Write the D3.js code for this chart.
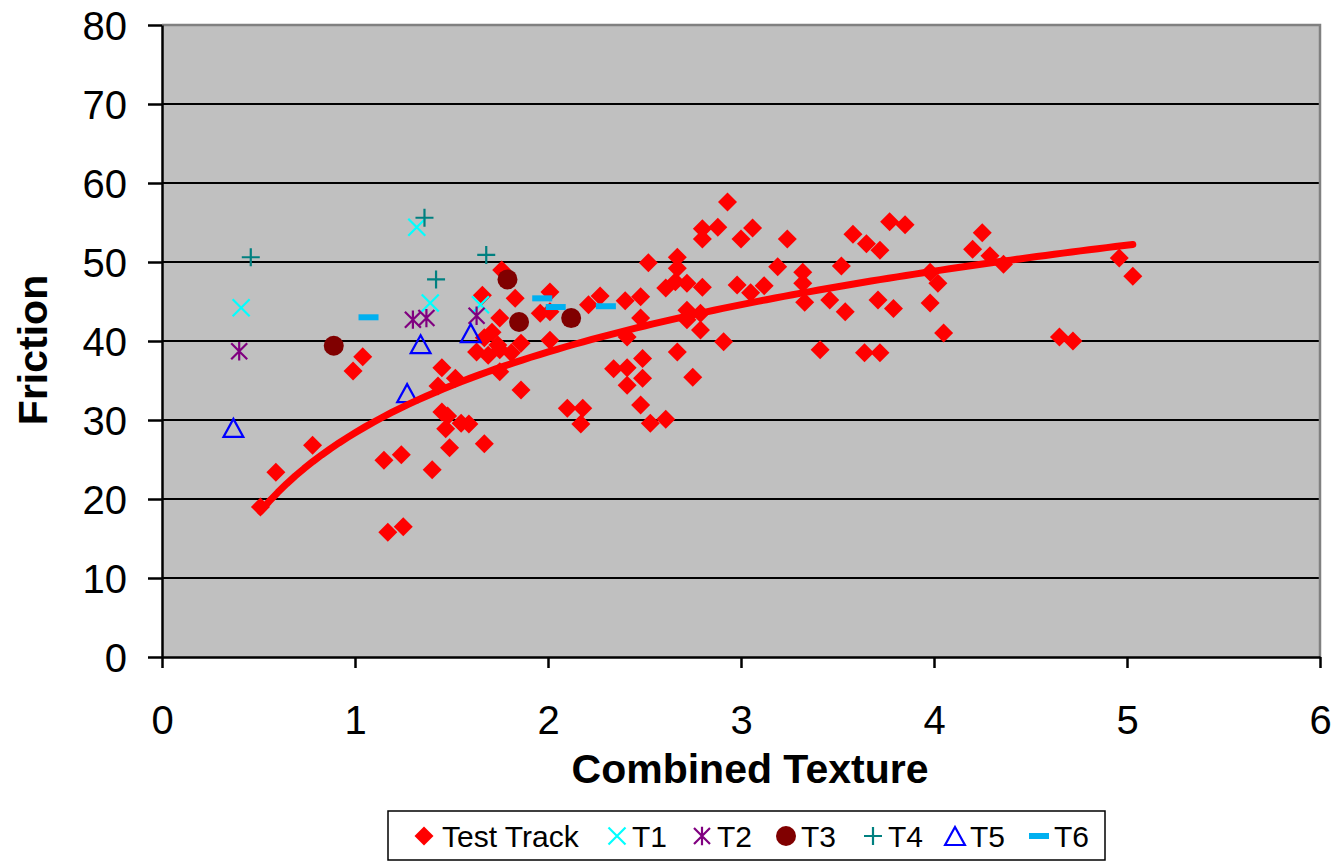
<!DOCTYPE html>
<html>
<head>
<meta charset="utf-8">
<script src="https://cdn.jsdelivr.net/npm/d3@7"></script>
<style>
  body { margin: 0; background: #fff; }
  svg { display: block; font-family: "Liberation Sans", Arial, sans-serif; }
</style>
</head>
<body>
<div id="chart"></div>
<script>
// Test Track (red diamonds)
var trackX = [0.51,0.59,0.78,0.99,1.04,1.15,1.24,1.17,1.25,1.40,1.45,1.52,1.43,1.45,1.48,1.47,1.55,1.59,1.49,1.67,
  1.75,1.86,1.76,1.66,1.83,2.01,1.96,2.01,1.75,1.71,1.67,1.74,1.63,1.69,1.75,1.86,1.81,2.01,
  2.10,2.18,2.17,2.27,2.21,2.40,2.48,2.48,2.52,2.67,2.67,2.61,2.66,2.72,2.80,2.72,2.72,2.79,2.79,
  2.41,2.67,2.49,2.34,2.41,2.49,2.41,2.75,2.48,2.53,2.61,2.91,
  2.93,2.80,2.88,2.80,3.00,3.06,3.24,2.98,3.05,3.12,3.19,3.32,3.32,3.52,3.58,3.65,3.72,3.77,3.85,
  3.98,4.02,4.20,4.25,4.29,4.36,3.33,3.46,3.54,3.71,3.79,3.98,3.41,3.64,3.72,4.05,4.65,4.72,4.96,5.03];
var trackY = [19.0,23.4,26.8,36.2,38.0,24.9,25.6,15.8,16.5,23.7,36.6,35.3,34.3,31.0,30.5,28.9,29.6,29.5,26.5,27.0,
  36.1,33.8,49.0,45.8,45.4,46.2,43.5,43.7,42.9,41.1,40.4,39.5,38.6,38.2,38.9,39.7,38.5,40.1,
  31.5,31.5,29.5,45.7,44.6,45.1,45.6,42.9,49.9,50.6,49.2,46.7,47.5,47.3,46.8,43.9,42.7,43.5,41.4,
  40.5,38.6,37.8,36.5,36.6,35.3,34.4,35.4,31.9,29.6,30.1,39.9,
  57.6,54.2,54.4,52.9,52.9,54.3,52.9,47.1,46.1,47.0,49.4,48.7,47.3,49.5,53.5,52.3,51.5,55.1,54.7,
  48.7,47.3,51.6,53.7,50.8,49.7,44.9,45.2,43.7,45.2,44.1,44.8,38.9,38.5,38.5,41.0,40.5,40.0,50.5,48.2];

// the other test sections
var t1X = [0.41,1.32,1.39,1.65], t1Y = [44.2,54.4,44.8,44.6];
var t2X = [0.40,1.30,1.37,1.63], t2Y = [38.7,42.7,42.9,43.2];
var t3X = [0.89,1.79,1.85,2.12], t3Y = [39.4,47.8,42.4,42.9];
var t4X = [0.46,1.36,1.42,1.68], t4Y = [50.6,55.6,47.8,50.9];
var t5X = [0.37,1.27,1.34,1.60], t5Y = [29.0,33.4,39.6,41.0];
var t6X = [1.07,1.97,2.04,2.30], t6Y = [43.0,45.4,44.3,44.4];

var xTicks = [0,1,2,3,4,5,6];
var yTicks = [0,10,20,30,40,50,60,70,80];
var legendNames = ["Test Track","T1","T2","T3","T4","T5","T6"];

var W = 1333, H = 862;
var margin = {top: 25, right: 13, bottom: 205, left: 162};
var width = W - margin.left - margin.right,
    height = H - margin.top - margin.bottom;

var svg = d3.select("#chart").append("svg")
  .attr("width", W).attr("height", H);
var g = svg.append("g")
  .attr("transform", "translate(" + margin.left + "," + margin.top + ")");

var x = d3.scaleLinear().domain([0,6]).range([0,width]);
var y = d3.scaleLinear().domain([0,80]).range([height,0]);

// plot background
g.append("rect").attr("width", width).attr("height", height).attr("fill", "#c0c0c0");

// grid lines
g.selectAll(".grid").data(yTicks.filter(function(d){return d>0 && d<80;}))
  .enter().append("line")
  .attr("x1", 0).attr("x2", width)
  .attr("y1", function(d){return y(d);}).attr("y2", function(d){return y(d);})
  .attr("stroke", "#000").attr("stroke-width", 2);

// gray frame top + right
g.append("path")
  .attr("d", "M0," + y(80) + "H" + width + "V" + height)
  .attr("fill", "none").attr("stroke", "#808080").attr("stroke-width", 2.5);

// axes
var yAxis = g.append("g")
  .call(d3.axisLeft(y).tickValues(yTicks).tickSize(14).tickPadding(21).tickSizeOuter(0));
var xAxis = g.append("g")
  .attr("transform", "translate(0," + height + ")")
  .call(d3.axisBottom(x).tickValues(xTicks).tickFormat(d3.format("d"))
    .tickSize(11).tickPadding(38).tickSizeOuter(0));
[yAxis, xAxis].forEach(function(a){
  a.select(".domain").attr("stroke", "#000").attr("stroke-width", 2.5);
  a.selectAll(".tick line").attr("stroke", "#000").attr("stroke-width", 2.5);
  a.selectAll("text").attr("font-size", 40).attr("fill", "#000")
    .attr("font-family", "Liberation Sans, Arial, sans-serif");
});
yAxis.selectAll("text").attr("dy", "0.36em");

// titles
svg.append("text")
  .attr("x", 750).attr("y", 783)
  .attr("text-anchor", "middle")
  .attr("font-size", 41).attr("font-weight", "bold")
  .text("Combined Texture");
svg.append("text")
  .attr("transform", "translate(47,350) rotate(-90)")
  .attr("text-anchor", "middle")
  .attr("font-size", 41).attr("font-weight", "bold")
  .text("Friction");

// marker shapes
function diamond(s){ return "M0," + (-s) + "L" + s + ",0L0," + s + "L" + (-s) + ",0Z"; }
function cross(s){ return "M" + (-s) + "," + (-s) + "L" + s + "," + s + "M" + (-s) + "," + s + "L" + s + "," + (-s); }
function star(s){ return cross(s) + "M0," + (-s*1.15) + "V" + (s*1.15); }
function plus(s){ return "M" + (-s) + ",0H" + s + "M0," + (-s) + "V" + s; }
function tri(s){ return "M0," + (-s) + "L" + (s*1.1) + "," + s + "L" + (-s*1.1) + "," + s + "Z"; }

var series = [
  {name:"Test Track", xs:trackX, ys:trackY, draw:function(sel){ sel.append("path").attr("d", diamond(9.5)).attr("fill", "#ff0000"); }},
  {name:"T1", xs:t1X, ys:t1Y, draw:function(sel){ sel.append("path").attr("d", cross(8.5)).attr("stroke", "#00ffff").attr("stroke-width", 2.2).attr("fill", "none"); }},
  {name:"T2", xs:t2X, ys:t2Y, draw:function(sel){ sel.append("path").attr("d", star(8)).attr("stroke", "#800080").attr("stroke-width", 2.2).attr("fill", "none"); }},
  {name:"T3", xs:t3X, ys:t3Y, draw:function(sel){ sel.append("circle").attr("r", 10).attr("fill", "#800000"); }},
  {name:"T4", xs:t4X, ys:t4Y, draw:function(sel){ sel.append("path").attr("d", plus(9)).attr("stroke", "#008080").attr("stroke-width", 2.2).attr("fill", "none"); }},
  {name:"T5", xs:t5X, ys:t5Y, draw:function(sel){ sel.append("path").attr("d", tri(9)).attr("stroke", "#0000ff").attr("stroke-width", 2.2).attr("fill", "none"); }},
  {name:"T6", xs:t6X, ys:t6Y, draw:function(sel){ sel.append("rect").attr("x", -10).attr("y", -3).attr("width", 20).attr("height", 6).attr("fill", "#00b0f0"); }}
];

series.forEach(function(s){
  var pts = s.xs.map(function(v,i){ return [v, s.ys[i]]; });
  g.append("g").selectAll("g").data(pts).enter().append("g")
    .attr("transform", function(d){ return "translate(" + x(d[0]) + "," + y(d[1]) + ")"; })
    .each(function(){ s.draw(d3.select(this)); });
});

// logarithmic trendline fitted to Test Track (least squares on ln x)
var lx = trackX.map(Math.log);
var mx = d3.mean(lx), my = d3.mean(trackY);
var b = d3.sum(lx, function(v,i){ return (v-mx)*(trackY[i]-my); }) / d3.sum(lx, function(v){ return (v-mx)*(v-mx); });
var a = my - b*mx;
var xr = d3.extent(trackX);
var trend = d3.range(0, 101).map(function(i){ var v = xr[0] + (xr[1]-xr[0])*i/100; return [v, a + b*Math.log(v)]; });
g.append("path").datum(trend)
  .attr("d", d3.line().x(function(d){return x(d[0]);}).y(function(d){return y(d[1]);}))
  .attr("fill", "none").attr("stroke", "#ff0000").attr("stroke-width", 7)
  .attr("stroke-linecap", "round").attr("stroke-linejoin", "round");

// legend
var legend = svg.append("g");
legend.append("rect")
  .attr("x", 388).attr("y", 811).attr("width", 717).attr("height", 49)
  .attr("fill", "#fff").attr("stroke", "#000").attr("stroke-width", 1.5);
var legendMarkX = [424, 617, 702, 786, 873, 955, 1039];
var items = legend.selectAll(".item").data(series).enter().append("g")
  .attr("transform", function(d,i){ return "translate(" + legendMarkX[i] + ",836)"; });
items.each(function(d){ d.draw(d3.select(this)); });
items.append("text")
  .attr("x", function(d,i){ return i === 0 ? 18 : 15; })
  .attr("y", 11)
  .attr("font-size", 30)
  .text(function(d,i){ return legendNames[i]; });
</script>
</body>
</html>
